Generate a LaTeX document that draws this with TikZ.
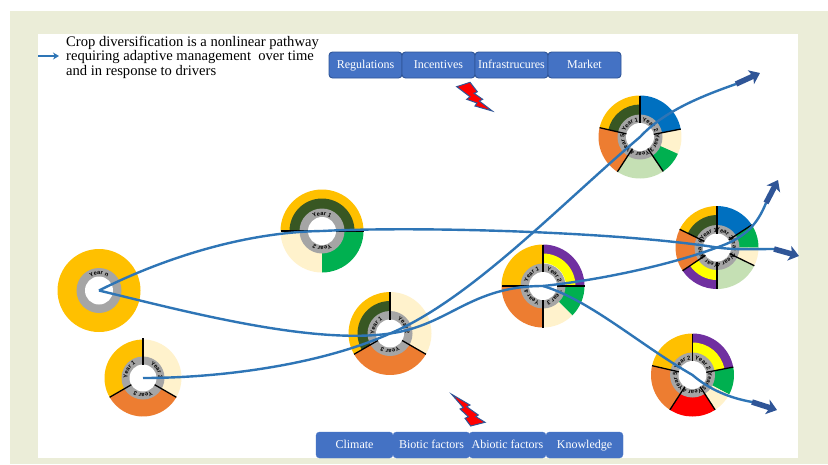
\documentclass[tikz,border=0pt]{standalone}
\usepackage{fontspec}
\setmainfont{Liberation Serif}
\setsansfont{Liberation Sans}
\usetikzlibrary{arrows.meta,decorations.text}
\definecolor{cy}{HTML}{FFC000}
\definecolor{cdg}{HTML}{385723}
\definecolor{ccr}{HTML}{FFF2CC}
\definecolor{cgr}{HTML}{00B050}
\definecolor{cor}{HTML}{ED7D31}
\definecolor{cpu}{HTML}{7030A0}
\definecolor{cbl}{HTML}{0070C0}
\definecolor{clg}{HTML}{C5E0B4}
\definecolor{cgy}{HTML}{A5A5A5}
\definecolor{cyl}{HTML}{FFFF00}
\definecolor{crd}{HTML}{FF0000}
\definecolor{cbg}{HTML}{EBEDD8}
\definecolor{cbtn}{HTML}{4472C4}
\definecolor{cbd}{HTML}{2F5597}
\definecolor{cln}{HTML}{2E75B6}
\tikzset{
  btn/.style={draw=cbd,line width=0.9pt,fill=cbtn,rounded corners=3.5pt,text=white,
    minimum height=26pt,inner sep=0pt,text height=9pt,text depth=3pt,font=\fontsize{12}{13}\selectfont},
  btnb/.style={btn,draw=cbtn,line width=0.3pt},
  path line/.style={draw=cln,line width=2.4pt},
  head/.style={draw=cbd,line width=5.5pt,-{Stealth[length=10pt,width=15pt,inset=2.5pt]}},
  bolt/.style={fill=crd,draw=cbd,line width=1pt,line join=miter},
  spoke/.style={draw=black,line width=1.3pt},
}
% sector: center, start, end, r in, r out, colour
\newcommand{\sect}[6]{\begin{scope}[shift={(#1)},y=1pt]
  \fill[#6] (#2:#4) arc[start angle=#2,end angle=#3,radius=#4] -- (#3:#5) arc[start angle=#3,end angle=#2,radius=#5] -- cycle;
  \end{scope}}
\newcommand{\hub}[1]{%
  \fill[cgy] (#1) circle[radius=22.5];
  \fill[white] (#1) circle[radius=14];}
\newcommand{\spk}[2]{\begin{scope}[shift={(#1)},y=1pt]\draw[spoke] (#2:14) -- (#2:41.5);\end{scope}}
% label: center, mid angle, text (clockwise, as in the picture)
\newcommand{\yl}[3]{\begin{scope}[shift={(#1)},y=1pt]
  \pgfmathsetmacro{\aS}{#2+70}\pgfmathsetmacro{\aE}{#2-70}
  \path[decorate,decoration={text along path,text align=center,
   text={|\fontsize{5.8}{6}\selectfont\bfseries\sffamily|#3}}]
   (\aS:15.6) arc[start angle=\aS,end angle=\aE,radius=15.6];
  \end{scope}}
\begin{document}
\begin{tikzpicture}[x=1pt,y=-1pt]
\useasboundingbox (0,0) rectangle (828,464);
\fill[white] (0,0) rectangle (828,464);
\fill[cbg] (10,11) rectangle (828,464);
\fill[white] (38,34) rectangle (798,458);

\coordinate (r0) at (99,290.5);
\coordinate (r1) at (143,378);
\coordinate (r2) at (322,231);
\coordinate (r3) at (390,333.5);
\coordinate (r4) at (543,286);
\coordinate (r5) at (640,137);
\coordinate (r6) at (717,247.5);
\coordinate (r7) at (692.5,375);

% ring 0
\fill[cy] (r0) circle[radius=41.5];
\hub{r0}
\yl{r0}{90}{Year n}

% ring 1
\sect{r1}{90}{210}{20}{38.5}{cy}
\sect{r1}{-30}{90}{20}{38.5}{ccr}
\sect{r1}{-150}{-30}{20}{38.5}{cor}
\fill[cgy] (r1) circle[radius=21.5]; \fill[white] (r1) circle[radius=13.5];
\begin{scope}[shift={(r1)},y=1pt]
\draw[spoke] (90:13.5) -- (90:40);
\draw[spoke] (210:13.5) -- (210:38.5);
\draw[spoke] (-30:13.5) -- (-30:38.5);
\end{scope}
\yl{r1}{150}{Year 1}\yl{r1}{30}{Year 2}\yl{r1}{-90}{Year 3}

% ring 2
\sect{r2}{0}{180}{32}{41.5}{cy}
\sect{r2}{0}{180}{20}{32.5}{cdg}
\sect{r2}{180}{270}{20}{41.5}{ccr}
\sect{r2}{-90}{0}{20}{41.5}{cgr}
\hub{r2}
\spk{r2}{180}\spk{r2}{0}
\yl{r2}{90}{Year 1}\yl{r2}{-90}{Year 2}

% ring 3
\sect{r3}{90}{210}{32}{41.5}{cy}
\sect{r3}{90}{210}{20}{32.5}{cdg}
\sect{r3}{-30}{90}{20}{41.5}{ccr}
\sect{r3}{-150}{-30}{20}{41.5}{cor}
\hub{r3}
\spk{r3}{90}\spk{r3}{210}\spk{r3}{-30}
\yl{r3}{150}{Year 1}\yl{r3}{30}{Year 2}\yl{r3}{-90}{Year 3}

% ring 4
\sect{r4}{90}{180}{20}{41.5}{cy}
\sect{r4}{0}{90}{32}{41.5}{cpu}
\sect{r4}{0}{90}{23}{32.5}{cyl}
\sect{r4}{-45}{0}{20}{41.5}{cgr}
\sect{r4}{-90}{-45}{20}{41.5}{ccr}
\sect{r4}{180}{270}{20}{41.5}{cor}
\hub{r4}
\spk{r4}{180}\spk{r4}{90}\spk{r4}{0}\spk{r4}{-90}
\yl{r4}{135}{Year 1}\yl{r4}{45}{Year 2}\yl{r4}{-45}{Year 3}\yl{r4}{225}{Year 4}

% ring 5
\sect{r5}{90}{167}{32}{41.5}{cy}
\sect{r5}{90}{167}{20}{32.5}{cdg}
\sect{r5}{11}{90}{20}{41.5}{cbl}
\sect{r5}{-24}{11}{20}{41.5}{ccr}
\sect{r5}{-56}{-24}{20}{41.5}{cgr}
\sect{r5}{-123}{-56}{20}{41.5}{clg}
\sect{r5}{167}{237}{20}{41.5}{cor}
\hub{r5}
\spk{r5}{90}\spk{r5}{11}\spk{r5}{-56}\spk{r5}{-123}\spk{r5}{167}
\yl{r5}{128}{Year 1}\yl{r5}{50}{Year 2}\yl{r5}{-22}{Year 3}\yl{r5}{-90}{Year 4}\yl{r5}{202}{Year 5}

% ring 6
\sect{r6}{90}{154}{32}{41.5}{cy}
\sect{r6}{90}{154}{20}{32.5}{cdg}
\sect{r6}{33}{90}{20}{41.5}{cbl}
\sect{r6}{0}{33}{20}{41.5}{cgr}
\sect{r6}{-26}{0}{20}{41.5}{ccr}
\sect{r6}{-90}{-26}{20}{41.5}{clg}
\sect{r6}{214}{270}{32}{41.5}{cpu}
\sect{r6}{214}{270}{20}{32.5}{cyl}
\sect{r6}{154}{214}{20}{41.5}{cor}
\hub{r6}
\spk{r6}{90}\spk{r6}{33}\spk{r6}{-26}\spk{r6}{-90}\spk{r6}{214}\spk{r6}{154}
\yl{r6}{122}{Year 1}\yl{r6}{62}{Year 2}\yl{r6}{3}{Year 3}\yl{r6}{-58}{Year 4}\yl{r6}{242}{Year 5}\yl{r6}{184}{Year 6}

% ring 7
\sect{r7}{90}{167}{20}{41.5}{cy}
\sect{r7}{11}{90}{32}{41.5}{cpu}
\sect{r7}{11}{90}{20}{32.5}{cyl}
\sect{r7}{-28}{11}{20}{41.5}{cgr}
\sect{r7}{-57}{-28}{20}{41.5}{ccr}
\sect{r7}{-123}{-57}{20}{41.5}{crd}
\sect{r7}{167}{237}{20}{41.5}{cor}
\hub{r7}
\spk{r7}{90}\spk{r7}{11}\spk{r7}{-57}\spk{r7}{-123}\spk{r7}{167}
\yl{r7}{128}{Year 2}\yl{r7}{50}{Year 2}\yl{r7}{-22}{Year 3}\yl{r7}{-90}{Year 4}\yl{r7}{202}{Year 5}

% coordinates of arrow ends
\coordinate (e1) at (736,84);
\coordinate (e1t) at (760,73);
\coordinate (e2) at (766,203);
\coordinate (e2t) at (778,180);
\coordinate (e3) at (774,249);
\coordinate (e3t) at (799,256);
\coordinate (e4) at (752,402);
\coordinate (e4t) at (777,410);

% pathways
\draw[path line] (r0) .. controls (170,255) and (250,232) .. (r2)
   .. controls (420,226) and (620,232) .. (r6) .. controls (735,250) and (755,249) .. (e3);
\draw[path line] (r0) .. controls (180,310) and (310,345) .. (r3)
   .. controls (450,325) and (470,286) .. (r4)
   .. controls (590,300) and (640,345) .. (r7) .. controls (710,390) and (730,398) .. (e4);
\draw[path line] (r1) .. controls (220,378) and (320,365) .. (r3)
   .. controls (470,300) and (560,205) .. (r5) .. controls (665,110) and (705,95) .. (e1);
\draw[path line] (r4) .. controls (600,280) and (670,265) .. (r6)
   .. controls (745,238) and (757,225) .. (e2);
\draw[head] (e1) -- (e1t);
\draw[head] (e2) -- (e2t);
\draw[head] (e3) -- (e3t);
\draw[head] (e4) -- (e4t);

% legend
\coordinate (la) at (38,56);
\coordinate (lb) at (59,56);
\draw[draw=cln,line width=1.8pt,-{Stealth[length=6pt,width=7pt]}] (la) -- (lb);
\node[anchor=north west,inner sep=0pt,align=left,font=\fontsize{14.6}{14.4}\selectfont] (legend) at (66,36)
  {Crop diversification is a nonlinear pathway\\requiring adaptive management\ \ over time\\and in response to drivers};

% top buttons
\node[btn,minimum width=73pt] (b1) at (365.5,65) {Regulations};
\node[btn,minimum width=73pt] (b2) at (438.5,65) {Incentives};
\node[btn,minimum width=73pt] (b3) at (511.5,65) {Infrastrucures};
\node[btn,minimum width=73pt] (b4) at (584.5,65) {Market};
% bottom buttons
\node[btnb,minimum width=77pt] (c1) at (354.5,445) {Climate};
\node[btnb,minimum width=77pt] (c2) at (431.5,445) {Biotic factors};
\node[btnb,minimum width=77pt] (c3) at (507.5,445) {Abiotic factors};
\node[btnb,minimum width=77pt] (c4) at (584.5,445) {Knowledge};

% lightning bolts
\draw[bolt] (456.7,86.7) -- (470,82.3) -- (477.3,91.7) -- (474,93.3) -- (482.7,99.3) -- (479.3,101) -- (492.3,111)
  -- (475,106) -- (477,103) -- (466.7,99.3) -- (470,96.7) -- cycle;
\draw[bolt] (451.7,394.3) -- (470,405) -- (466.7,406.7) -- (478.3,415) -- (475.7,416.5) -- (485,422.3)
  -- (470.7,426) -- (465,418.3) -- (468.3,416.7) -- (460,409) -- (463.3,407.7) -- cycle;
\end{tikzpicture}
\end{document}
